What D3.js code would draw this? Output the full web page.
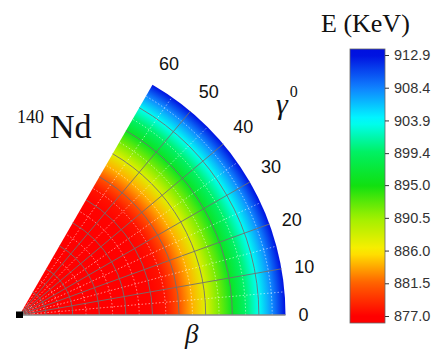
<!DOCTYPE html>
<html><head><meta charset="utf-8">
<script src="https://cdn.jsdelivr.net/npm/d3@7"></script>
<style>html,body{margin:0;padding:0;background:#fff;}svg{display:block;}</style>
</head><body>
<svg id="chart" width="440" height="355"></svg>
<script>
// ---- data ----
const betaSamples = [0.00,0.05,0.10,0.15,0.20,0.25,0.30,0.35,0.40,0.45,0.50,0.55,0.60,0.65,0.70,0.75,0.80,0.85,0.90,0.95,1.00];
const energyValues = [877.0,877.0,877.0,877.0,877.0,877.0,877.0,877.0,877.0,877.05,877.15,877.9,880.8,884.0,887.5,891.6,896.0,899.6,903.6,908.0,912.9];
const gammaTicks = [0,10,20,30,40,50,60];
const gammaMinor = [5,15,25,35,45,55];
const betaMajor = [0.1,0.2,0.3,0.4,0.5,0.6,0.7,0.8,0.9];
const betaMinor = [0.05,0.15,0.25,0.35,0.45,0.55,0.65,0.75,0.85,0.95];
const colorbarTicks = [877.0,881.5,886.0,890.5,895.0,899.4,903.9,908.4,912.9];
const rainbowStops = ["#ff0000","#ff6000","#ffee00","#a0f000","#10e010","#00f060","#00ffff","#1080ff","#0010e0"];

const SERIF = "'Liberation Serif', 'Times New Roman', Times, 'DejaVu Serif', 'Noto Serif', FreeSerif, 'Nimbus Roman', serif";
const SANS = "Arial, 'Liberation Sans', Helvetica, sans-serif";

// ---- layout ----
const svg = d3.select("#chart");
const cx = 19.5, cy = 315, R = 266;
const eMin = 877.0, eMax = 912.9;
const rScale = d3.scaleLinear().domain([0,1]).range([0,R]);
const tScale = d3.scaleLinear().domain([eMin,eMax]).range([0,1]).clamp(true);
const rainbow = d3.scaleLinear().domain(d3.range(rainbowStops.length).map(i=>i/(rainbowStops.length-1))).range(rainbowStops).interpolate(d3.interpolateRgb);
const colorOf = e => rainbow(tScale(e));
const rad = g => g*Math.PI/180;

const defs = svg.append("defs");
const rg = defs.append("radialGradient").attr("id","wedgeGrad")
  .attr("gradientUnits","userSpaceOnUse").attr("cx",0).attr("cy",0).attr("r",rScale(1));
betaSamples.forEach((b,i)=>{
  rg.append("stop").attr("offset",b).attr("stop-color",colorOf(energyValues[i]));
});

const g = svg.append("g").attr("transform",`translate(${cx},${cy})`);
const wedge = d3.arc()({innerRadius:0, outerRadius:rScale(1), startAngle:Math.PI/2 - rad(60), endAngle:Math.PI/2});
g.append("path").attr("d",wedge).attr("fill","url(#wedgeGrad)");

function arcPath(r){
  const p = d3.path();
  p.moveTo(r,0);
  p.arc(0,0,r,0,-rad(60),true);
  return p.toString();
}
function rayPath(gm){
  return d3.line()([[0,0],[rScale(1)*Math.cos(rad(gm)), -rScale(1)*Math.sin(rad(gm))]]);
}
betaMinor.forEach(b=>{
  g.append("path").attr("d",arcPath(rScale(b))).attr("fill","none")
   .attr("stroke","#ffffff").attr("stroke-opacity",0.6).attr("stroke-width",0.9).attr("stroke-dasharray","1.5,2");
});
gammaMinor.forEach(gm=>{
  g.append("path").attr("d",rayPath(gm)).attr("fill","none")
   .attr("stroke","#ffffff").attr("stroke-opacity",0.6).attr("stroke-width",0.9).attr("stroke-dasharray","1.5,2");
});
betaMajor.forEach(b=>{
  g.append("path").attr("d",arcPath(rScale(b))).attr("fill","none")
   .attr("stroke","#707070").attr("stroke-opacity",0.9).attr("stroke-width",1);
});
gammaTicks.filter(t=>t>0 && t<60).forEach(gm=>{
  g.append("path").attr("d",rayPath(gm)).attr("fill","none")
   .attr("stroke","#707070").attr("stroke-opacity",0.9).attr("stroke-width",1);
});
g.append("path").attr("d",rayPath(0)).attr("stroke","#8a8a8a").attr("stroke-width",1.4);
g.append("rect").attr("x",-3.5).attr("y",-3.5).attr("width",7).attr("height",6.5).attr("fill","#000");

// gamma labels
const labR = 279;
gammaTicks.forEach(gm=>{
  const x = labR*Math.cos(rad(gm)), y = -labR*Math.sin(rad(gm));
  const t = g.append("text").style("font-family",SANS).attr("x",x)
    .style("font-size","18px").attr("fill","#111").text(gm);
  if (gm < 25) t.attr("y",y).attr("dy","0.36em");
  else t.attr("y",y-3);
});

// gamma axis title
const gt = svg.append("text").style("font-family",SERIF).attr("x",276).attr("y",114).attr("fill","#111");
gt.append("tspan").style("font-size","30px").style("font-style","italic").text("γ");
gt.append("tspan").style("font-size","16px").attr("dy",-17).attr("dx",2).text("0");

// beta title
svg.append("text").style("font-family",SERIF).attr("x",185).attr("y",343)
  .style("font-size","27px").style("font-style","italic").attr("fill","#111").text("β");

// nucleus label
const nd = svg.append("text").style("font-family",SERIF).attr("x",17).attr("y",138).attr("fill","#111");
nd.append("tspan").style("font-size","18px").attr("dy",-15).text("140");
nd.append("tspan").style("font-size","34px").attr("dy",15).attr("dx",6).text("Nd");

// ---- colorbar ----
const yScale = d3.scaleLinear().domain([eMin,eMax]).range([316,55]);
const barTop = 49, barBot = 323, barX = 350, barW = 35;
const lg = defs.append("linearGradient").attr("id","cbGrad").attr("gradientUnits","userSpaceOnUse")
  .attr("x1",0).attr("x2",0).attr("y1",barBot).attr("y2",barTop);
d3.range(0,41).forEach(i=>{
  const y = barBot + (barTop-barBot)*i/40;
  lg.append("stop").attr("offset",i/40).attr("stop-color",colorOf(yScale.invert(y)));
});
svg.append("rect").attr("x",barX).attr("y",barTop).attr("width",barW).attr("height",barBot-barTop)
  .attr("fill","url(#cbGrad)").attr("stroke","#666").attr("stroke-width",0.8);
const axis = d3.axisRight(yScale).tickValues(colorbarTicks).tickFormat(d3.format(".1f")).tickSize(4).tickPadding(5);
const ag = svg.append("g").attr("transform",`translate(${barX+barW},0)`).call(axis);
ag.select(".domain").remove();
ag.selectAll(".tick line").attr("stroke","#333");
ag.attr("font-family",null).attr("font-size",null);
ag.selectAll(".tick text").style("font-family",SANS).style("font-size","14.5px").attr("fill","#333");

// colorbar title
svg.append("text").style("font-family",SERIF).attr("x",321).attr("y",32)
  .style("font-size","26px").attr("fill","#111").text("E (KeV)");
</script>
</body></html>
